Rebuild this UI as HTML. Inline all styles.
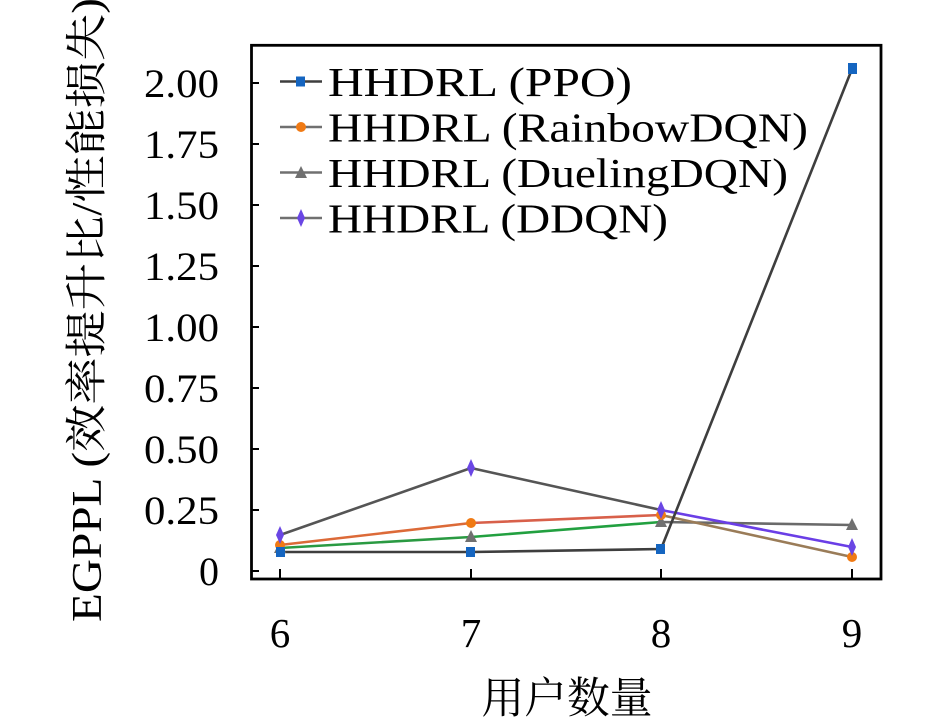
<!DOCTYPE html>
<html>
<head>
<meta charset="utf-8">
<style>
html,body{margin:0;padding:0;background:#fff;}
svg{display:block;}
</style>
</head>
<body>
<svg width="945" height="722" viewBox="0 0 945 722" xmlns="http://www.w3.org/2000/svg">
<rect x="0" y="0" width="945" height="722" fill="#fff"/>

<!-- data lines -->
<g fill="none" stroke-width="2.6" stroke-linejoin="round" stroke-linecap="round">
  <!-- DuelingDQN -->
  <polyline points="280,548 471,537" stroke="#2a9a42"/>
  <polyline points="471,537 661,522" stroke="#22a040"/>
  <polyline points="661,522 852,525" stroke="#6a6a6a"/>
  <!-- RainbowDQN -->
  <polyline points="280,545 471,523" stroke="#dc6a38"/>
  <polyline points="471,523 661,515" stroke="#d8604a"/>
  <polyline points="661,515 852,557" stroke="#9a7c58"/>
  <!-- DDQN -->
  <polyline points="280,535 471,468 661,510" stroke="#555"/>
  <polyline points="661,510 852,547" stroke="#6a3ee6"/>
  <!-- PPO -->
  <polyline points="280,552 471,552 661,549 852,69" stroke="#3e3e3e"/>
</g>

<!-- markers -->
<g>
  <!-- Dueling triangles -->
  <g fill="#707070">
    <polygon points="280,541 286,553 274,553"/>
    <polygon points="471,530 477,542 465,542"/>
    <polygon points="661,515 667,527 655,527"/>
    <polygon points="852,518 858,530 846,530"/>
  </g>
  <!-- Rainbow circles -->
  <g fill="#f07a14">
    <circle cx="280" cy="545" r="5"/>
    <circle cx="471" cy="523" r="5"/>
    <circle cx="661" cy="515" r="5"/>
    <circle cx="852" cy="557" r="5"/>
  </g>
  <!-- DDQN diamonds -->
  <g fill="#6a46e4">
    <polygon points="280,526 284,535 280,544 276,535"/>
    <polygon points="471,459 475,468 471,477 467,468"/>
    <polygon points="661,501 665,510 661,519 657,510"/>
    <polygon points="852,538 856,547 852,556 848,547"/>
  </g>
  <!-- PPO squares -->
  <g fill="#1565c0">
    <rect x="276" y="547" width="9" height="10"/>
    <rect x="466" y="547" width="9" height="10"/>
    <rect x="656" y="544" width="9" height="10"/>
    <rect x="848" y="63" width="9" height="11"/>
  </g>
</g>

<!-- axes frame -->
<rect x="251.5" y="45.3" width="629.5" height="533.7" fill="none" stroke="#000" stroke-width="2.8"/>

<!-- y ticks -->
<g stroke="#000" stroke-width="2">
  <line x1="251" y1="571" x2="259" y2="571"/>
  <line x1="251" y1="510" x2="259" y2="510"/>
  <line x1="251" y1="449" x2="259" y2="449"/>
  <line x1="251" y1="388" x2="259" y2="388"/>
  <line x1="251" y1="327" x2="259" y2="327"/>
  <line x1="251" y1="266" x2="259" y2="266"/>
  <line x1="251" y1="205" x2="259" y2="205"/>
  <line x1="251" y1="144" x2="259" y2="144"/>
  <line x1="251" y1="83" x2="259" y2="83"/>
  <!-- x ticks -->
  <line x1="280" y1="579" x2="280" y2="569"/>
  <line x1="471" y1="579" x2="471" y2="569"/>
  <line x1="661" y1="579" x2="661" y2="569"/>
  <line x1="852" y1="579" x2="852" y2="569"/>
</g>

<!-- y tick labels -->
<g font-family="'Liberation Serif', serif" font-size="40" fill="#000" text-anchor="end">
  <text x="219" y="585">0</text>
  <text x="219" y="524" textLength="75" lengthAdjust="spacingAndGlyphs">0.25</text>
  <text x="219" y="463" textLength="75" lengthAdjust="spacingAndGlyphs">0.50</text>
  <text x="219" y="402" textLength="75" lengthAdjust="spacingAndGlyphs">0.75</text>
  <text x="219" y="341" textLength="75" lengthAdjust="spacingAndGlyphs">1.00</text>
  <text x="219" y="280" textLength="75" lengthAdjust="spacingAndGlyphs">1.25</text>
  <text x="219" y="219" textLength="75" lengthAdjust="spacingAndGlyphs">1.50</text>
  <text x="219" y="158" textLength="75" lengthAdjust="spacingAndGlyphs">1.75</text>
  <text x="219" y="97" textLength="75" lengthAdjust="spacingAndGlyphs">2.00</text>
</g>

<!-- x tick labels -->
<g font-family="'Liberation Serif', serif" font-size="41" fill="#000" text-anchor="middle">
  <text x="280" y="647">6</text>
  <text x="471" y="647">7</text>
  <text x="661" y="647">8</text>
  <text x="852" y="647">9</text>
</g>

<!-- x label -->
<text x="567" y="713" text-anchor="middle" font-family="'Liberation Serif', 'Noto Serif CJK SC', serif" font-size="43" textLength="171" lengthAdjust="spacingAndGlyphs" fill="#000">用户数量</text>

<!-- y label -->
<text transform="translate(101,310) rotate(-90)" text-anchor="middle" font-family="'Liberation Serif', 'Noto Serif CJK SC', serif" font-size="42" textLength="624" lengthAdjust="spacingAndGlyphs" fill="#000">EGPPL (效率提升比/性能损失)</text>

<!-- legend -->
<g stroke-width="2.6">
  <line x1="280" y1="81.5" x2="322" y2="81.5" stroke="#3e3e3e"/>
  <line x1="280" y1="127" x2="322" y2="127" stroke="#707070"/>
  <line x1="280" y1="172.5" x2="322" y2="172.5" stroke="#707070"/>
  <line x1="280" y1="218" x2="322" y2="218" stroke="#707070"/>
</g>
<rect x="296" y="76.5" width="9" height="10" fill="#1565c0"/>
<circle cx="301" cy="127" r="5" fill="#f07a14"/>
<polygon points="301,166 307,178 295,178" fill="#707070"/>
<polygon points="301,209 305,218 301,227 297,218" fill="#6a46e4"/>
<g font-family="'Liberation Serif', serif" font-size="41" fill="#000">
  <text x="328" y="96" textLength="304" lengthAdjust="spacingAndGlyphs">HHDRL (PPO)</text>
  <text x="328" y="141.5" textLength="480" lengthAdjust="spacingAndGlyphs">HHDRL (RainbowDQN)</text>
  <text x="328" y="187" textLength="460" lengthAdjust="spacingAndGlyphs">HHDRL (DuelingDQN)</text>
  <text x="328" y="232.5" textLength="340" lengthAdjust="spacingAndGlyphs">HHDRL (DDQN)</text>
</g>
</svg>
</body>
</html>
